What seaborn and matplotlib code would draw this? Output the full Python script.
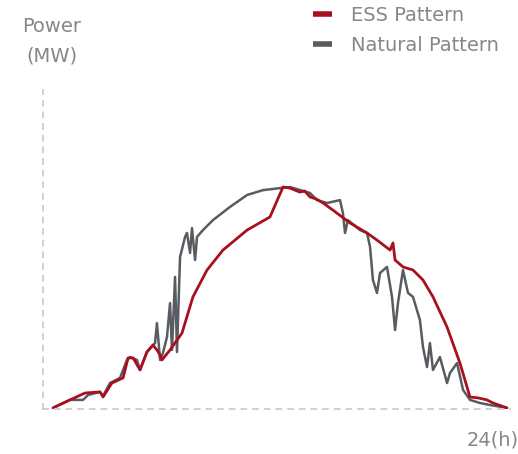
import matplotlib
matplotlib.use("Agg")
import matplotlib.pyplot as plt
import numpy as np
import pandas as pd
import seaborn as sns
from matplotlib.lines import Line2D

# natural (grey) pattern, hour vs power
natural_hour = [0.52, 1.40, 2.08, 2.34, 2.96, 3.12, 3.48, 4.00, 4.36, 4.52, 4.88, 5.04, 5.40, 5.82,
                5.92, 6.08, 6.23, 6.44, 6.60, 6.70, 6.86, 6.96, 7.12, 7.38, 7.48, 7.64, 7.74, 7.90,
                8.00, 8.31, 8.83, 9.71, 10.60, 11.43, 12.31, 12.83, 13.87, 14.23, 14.75, 15.43,
                15.58, 15.69, 15.84, 16.47, 16.83, 16.99, 17.14, 17.35, 17.51, 17.87, 18.13, 18.29,
                18.44, 18.70, 18.96, 19.22, 19.58, 19.74, 19.95, 20.10, 20.26, 20.62, 20.99, 21.14,
                21.51, 21.82, 22.18, 22.70, 23.22, 24.10]
natural_power = [0.5, 4.1, 4.1, 6.3, 7.7, 5.9, 11.7, 14.0, 22.1, 23.4, 22.1, 17.6, 25.7, 29.7,
                 38.7, 22.1, 25.2, 32.4, 47.7, 26.6, 59.5, 25.7, 68.5, 77.5, 79.3, 70.3, 81.5, 67.1,
                 77.5, 80.6, 85.1, 91.0, 96.4, 98.6, 99.5, 100.0, 97.3, 94.1, 92.8, 94.1,
                 88.3, 79.3, 85.1, 80.6, 79.3, 73.0, 58.1, 52.3, 61.3, 64.0, 50.5, 35.6,
                 47.7, 62.6, 52.3, 50.5, 40.1, 27.9, 18.9, 29.7, 17.6, 23.4, 11.7, 16.2,
                 20.7, 8.6, 4.1, 2.7, 1.8, 0.5]

# ESS (red) pattern
ess_hour = [0.52, 1.40, 2.18, 2.96, 3.12, 3.58, 4.16, 4.42, 4.68, 5.04, 5.40, 5.71, 5.92, 6.08,
            6.18, 6.60, 7.22, 7.79, 8.52, 9.35, 10.60, 11.79, 12.47, 12.83, 13.35, 13.60, 13.87,
            14.20, 14.55, 15.06, 15.95, 16.83, 17.35, 18.03, 18.18, 18.29, 18.70, 19.22, 19.74,
            20.26, 20.99, 21.66, 22.18, 22.60, 23.06, 23.38, 24.10]
ess_power = [0.5, 4.1, 7.2, 7.7, 5.4, 11.7, 14.0, 23.0, 23.0, 17.6, 25.7, 28.8, 26.6, 24.3,
             22.1, 26.6, 34.2, 50.5, 62.6, 71.6, 80.6, 86.5, 100.0, 99.5, 97.7, 98.2, 95.5,
             94.6, 92.8, 89.6, 83.8, 79.3, 76.1, 71.6, 74.8, 67.1, 64.0, 62.6, 58.1,
             50.5, 36.9, 20.7, 5.4, 5.0, 4.1, 2.7, 0.5]

series_labels = ["ESS Pattern", "Natural Pattern"]
series_colors = ["#a8101f", "#585c60"]
text_color = "#878787"

sns.set_style("white")
fig = plt.figure(figsize=(5.18, 4.54), dpi=100)
ax = fig.add_axes([43 / 518, 45 / 454, 467 / 518, 319 / 454])

sns.lineplot(x=natural_hour, y=natural_power, sort=False, color=series_colors[1],
             lw=1.8, ax=ax)
sns.lineplot(x=ess_hour, y=ess_power, sort=False, color=series_colors[0],
             lw=2.0, ax=ax)

ax.set_xlim(0, 24.26)
ax.set_ylim(0, 143.7)
ax.set_xticks([])
ax.set_yticks([])
for s in ["top", "right"]:
    ax.spines[s].set_visible(False)
for s in ["left", "bottom"]:
    ax.spines[s].set_linestyle((0, (3, 4)))
    ax.spines[s].set_color("#c8c8c8")
    ax.spines[s].set_linewidth(1.2)

fs = 14
fig.text(52 / 518, 1 - 27 / 454, "Power", ha="center", va="center", fontsize=fs, color=text_color)
fig.text(52 / 518, 1 - 56 / 454, "(MW)", ha="center", va="center", fontsize=fs, color=text_color)
fig.text(467 / 518, 1 - 440 / 454, "24(h)", ha="left", va="center", fontsize=fs, color=text_color)

handles = [Line2D([], [], color=c, lw=4, solid_capstyle="butt") for c in series_colors]
leg = fig.legend(handles, series_labels, loc="upper left", bbox_to_anchor=(295 / 518, 1.025),
                 frameon=False, fontsize=fs, handlelength=1.0, handletextpad=1.0,
                 labelspacing=0.55)
for t in leg.get_texts():
    t.set_color(text_color)

fig.savefig("out.png", dpi=100)
